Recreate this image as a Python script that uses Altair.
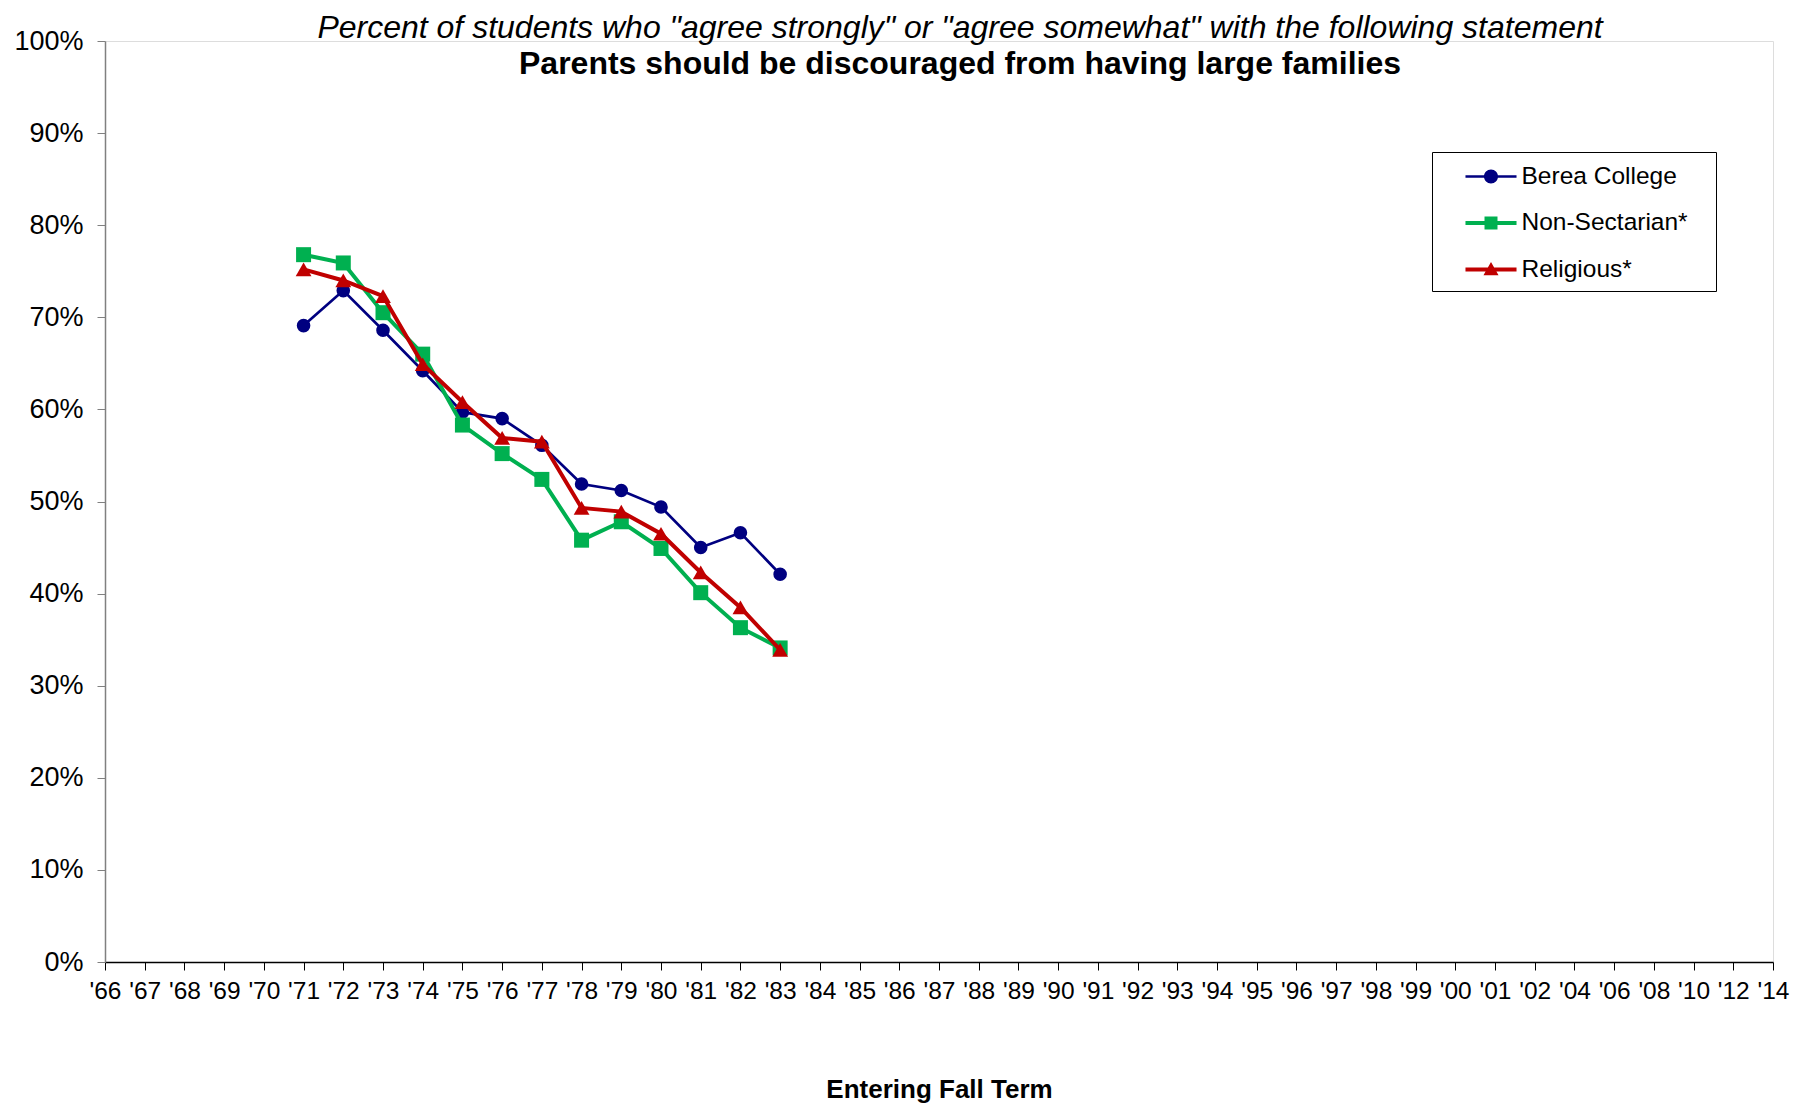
import altair as alt
import pandas as pd

# ---- data ----
x_labels = ["'66", "'67", "'68", "'69", "'70", "'71", "'72", "'73", "'74", "'75",
            "'76", "'77", "'78", "'79", "'80", "'81", "'82", "'83", "'84", "'85",
            "'86", "'87", "'88", "'89", "'90", "'91", "'92", "'93", "'94", "'95",
            "'96", "'97", "'98", "'99", "'00", "'01", "'02", "'04", "'06", "'08",
            "'10", "'12", "'14"]
years = ["'71", "'72", "'73", "'74", "'75", "'76", "'77", "'78", "'79", "'80", "'81", "'82", "'83"]
berea = [69.1, 72.9, 68.6, 64.2, 59.7, 59.0, 56.1, 51.9, 51.2, 49.4, 45.0, 46.6, 42.1]
nonsect = [76.8, 75.9, 70.5, 66.0, 58.3, 55.2, 52.4, 45.8, 47.8, 44.9, 40.1, 36.3, 34.1]
relig = [75.2, 74.0, 72.3, 64.9, 60.8, 56.9, 56.5, 49.3, 48.9, 46.5, 42.3, 38.5, 33.9]
series_names = ["Berea College", "Non-Sectarian*", "Religious*"]
series_values = [berea, nonsect, relig]

colors = ["#000080", "#00B050", "#C00000"]
shapes = ["circle", "square", "triangle-up"]
widths = [2.7, 4, 4]
sizes = [185, 225, 250]

rows = []
for name, vals in zip(series_names, series_values):
    for y, v in zip(years, vals):
        rows.append({"year": y, "series": name, "value": v / 100})
df = pd.DataFrame(rows)

FONT = "Liberation Sans"

x_enc = alt.X("year:O", scale=alt.Scale(type="point", domain=x_labels, padding=0),
              axis=alt.Axis(title="Entering Fall Term", labelAngle=0, labelOverlap=False,
                            labelFontSize=24.5, labelFont=FONT, labelColor="black",
                            labelPadding=9, tickSize=8, tickColor="black",
                            domainColor="black", domainWidth=1.5, tickWidth=1,
                            titleFontSize=26, titleFont=FONT, titleFontWeight="bold",
                            titleColor="black", titlePadding=74, grid=False))
y_enc = alt.Y("value:Q", scale=alt.Scale(domain=[0, 1], nice=False),
              axis=alt.Axis(title=None, format=".0%", values=[i / 10 for i in range(11)],
                            labelFontSize=27, labelFont=FONT, labelColor="black",
                            labelPadding=14, tickSize=8, tickColor="#808080",
                            domainColor="#808080", domainWidth=1.5, grid=False))

layers = []
for name, c, sh, w, s in zip(series_names, colors, shapes, widths, sizes):
    base = alt.Chart(df).transform_filter(alt.datum.series == name)
    layers.append(base.mark_line(color=c, strokeWidth=w).encode(x=x_enc, y=y_enc))
    layers.append(base.mark_point(filled=True, color=c, shape=sh, size=s, opacity=1)
                  .encode(x=x_enc, y=y_enc))

# legend symbols: line + marker as custom paths (unit = 14.5 px)
leg_paths = [
    "M-1.76,-0.086L1.76,-0.086L1.76,0.086L-1.76,0.086Z "
    "M-0.483,0A0.483,0.483 0 1,1 0.483,0A0.483,0.483 0 1,1 -0.483,0Z",
    "M-1.76,-0.138L1.76,-0.138L1.76,0.138L-1.76,0.138Z "
    "M-0.448,-0.448L0.448,-0.448L0.448,0.448L-0.448,0.448Z",
    "M-1.76,-0.138L1.76,-0.138L1.76,0.138L-1.76,0.138Z "
    "M0,-0.52L0.52,0.4L-0.52,0.4Z",
]
PAD = "\u2800"
legend = alt.Legend(title=None, orient="none", legendX=1327, legendY=111,
                    strokeColor="black", fillColor="white", padding=10,
                    symbolSize=841, symbolStrokeWidth=0, symbolOffset=34.5,
                    labelFontSize=24.5, labelFont=FONT, labelColor="black",
                    labelOffset=16, rowPadding=20.5, labelLimit=400,
                    labelExpr=f"datum.label + '{PAD}'")
legend_layer = alt.Chart(df).transform_filter("false").mark_point(filled=True, opacity=1).encode(
    x=x_enc, y=y_enc,
    color=alt.Color("series:N", scale=alt.Scale(domain=series_names, range=colors), legend=legend),
    shape=alt.Shape("series:N", scale=alt.Scale(domain=series_names, range=leg_paths), legend=legend),
)
layers.append(legend_layer)

chart = alt.layer(*layers).properties(
    width=1668, height=921,
    autosize=alt.AutoSizeParams(type="none"),
    padding={"left": 97, "top": 33, "right": 17, "bottom": 142},
    title=alt.TitleParams(
        text='Percent of students who "agree strongly" or "agree somewhat" with the following statement',
        subtitle="Parents should be discouraged from having large families",
        font=FONT, fontSize=32, fontStyle="italic", fontWeight="normal", color="black",
        subtitleFont=FONT, subtitleFontSize=32, subtitleFontWeight="bold", subtitleColor="black",
        subtitlePadding=4, anchor="middle", dx=21, offset=-54,
    ),
).configure_view(stroke=None).configure(font=FONT)

chart.save("out.html", embed_options={"renderer": "svg", "actions": False})
